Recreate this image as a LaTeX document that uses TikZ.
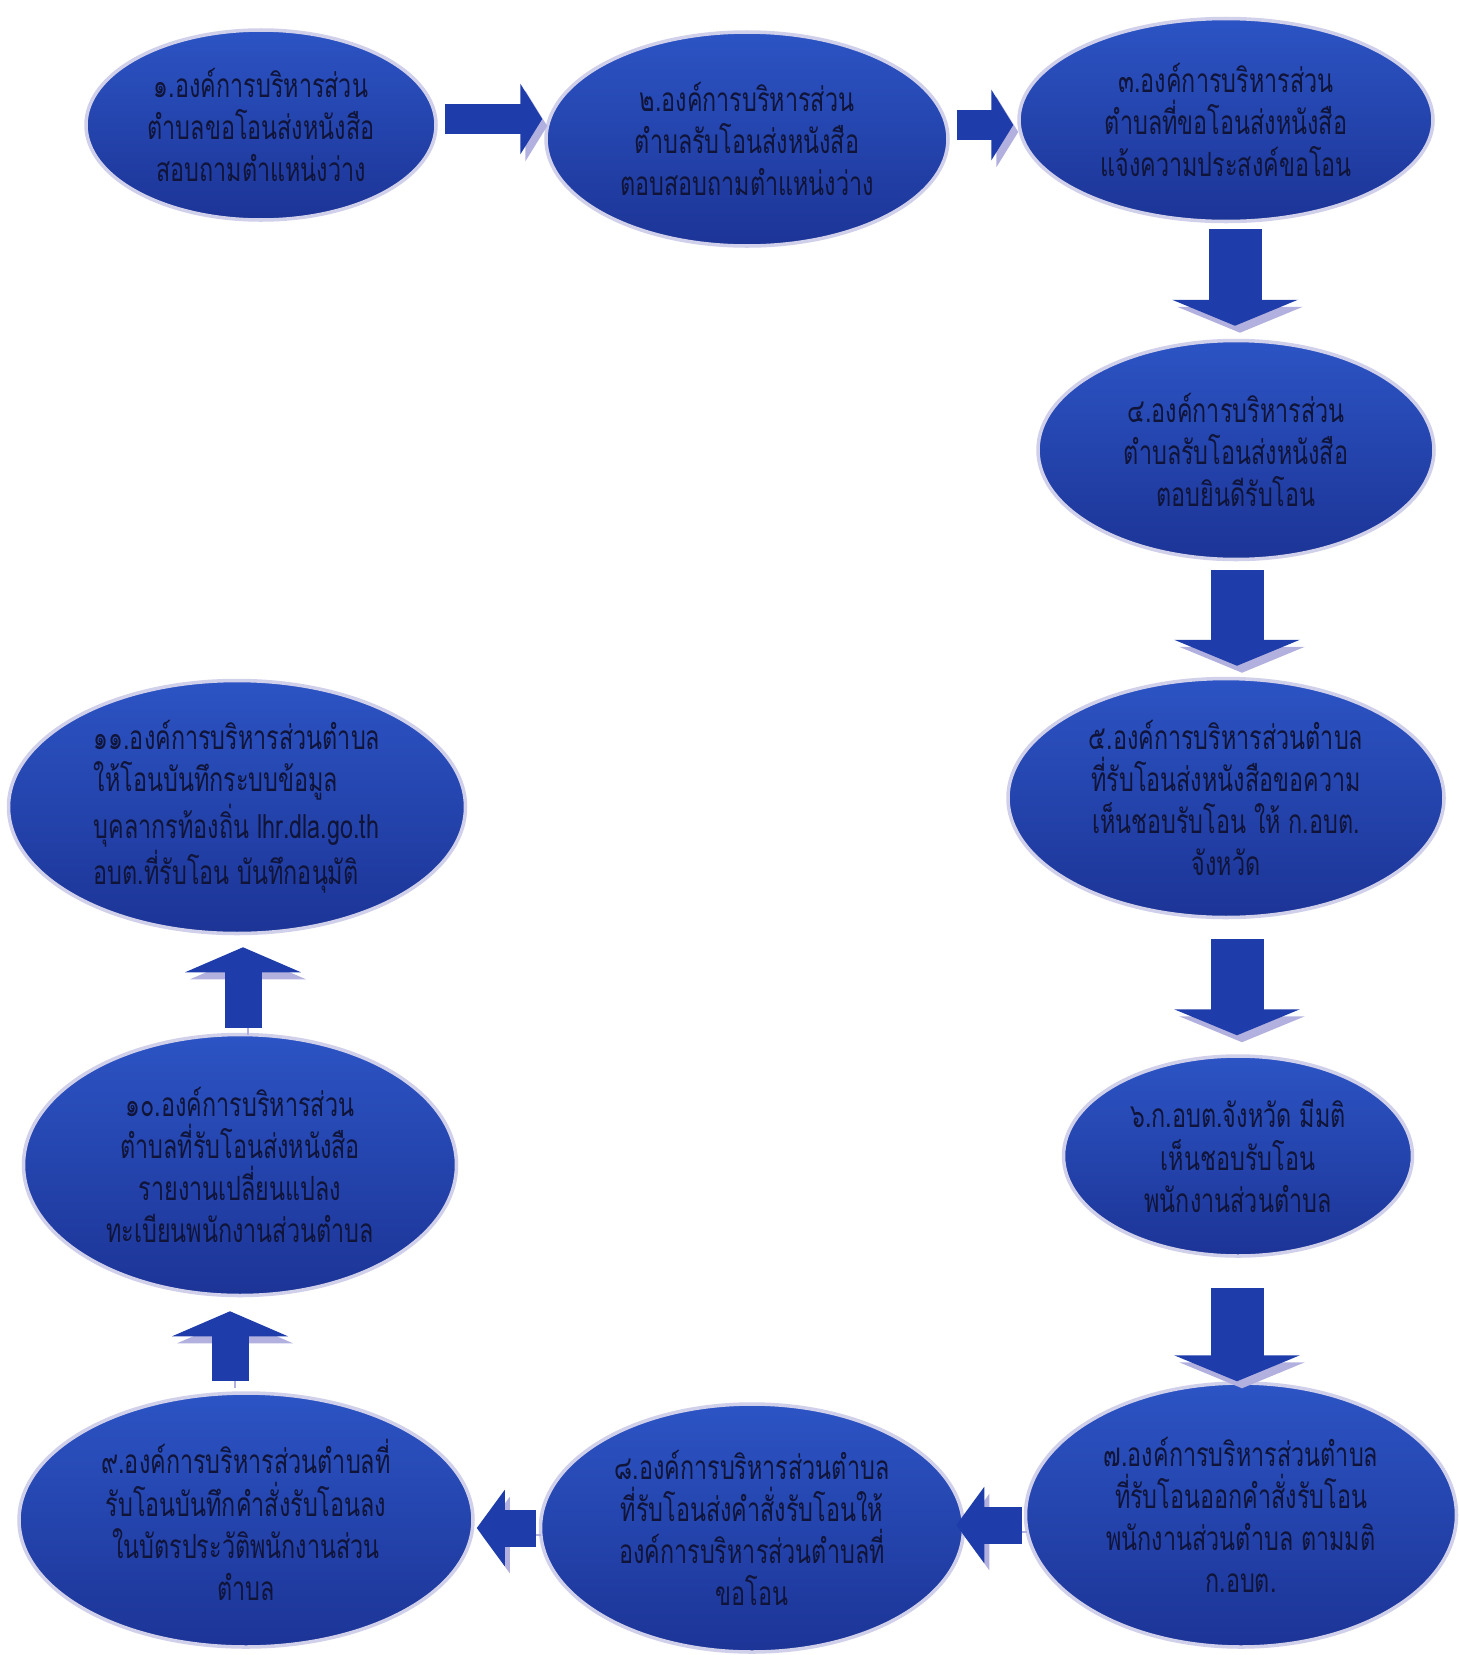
\documentclass[tikz,border=0pt]{standalone}
\usepackage{fontspec}
\newfontfamily\thaifont[Script=Thai, FakeStretch=0.7]{Loma}
\usetikzlibrary{shapes.geometric,arrows.meta}

\definecolor{stagetop}{RGB}{44,84,196}
\definecolor{stagebot}{RGB}{28,52,150}
\definecolor{arrowblue}{RGB}{30,60,170}
\definecolor{shade}{RGB}{178,176,222}
\definecolor{ink}{RGB}{16,20,56}

\begin{document}
\begin{tikzpicture}[x=0.1mm, y=-0.1mm,
  stage/.style = {ellipse, draw=shade!60, line width=1pt, top color=stagetop, bottom color=stagebot,
    text=ink, font=\thaifont\fontsize{9.5}{12}\selectfont, align=center, inner sep=-1.5mm},
  flow/.style = {draw=arrowblue, preaction={draw=shade, transform canvas={shift={(5,7)}}}},
  toprow/.style = {line width=3mm, -{Triangle[length=2.2mm, width=7mm]}},
  rightcol/.style = {line width=5.3mm, -{Triangle[length=2.6mm, width=12.5mm]}},
  bottomrow/.style = {line width=3.7mm, -{Triangle[length=2.8mm, width=7.5mm]}},
  leftcol/.style = {line width=3.7mm, -{Triangle[length=2.5mm, width=11.5mm]}}]
\useasboundingbox (0,0) rectangle (1459,1655);

\node[stage, minimum width=35mm, minimum height=19mm] (e1) at (261,125)
  {๑.องค์การบริหารส่วน\\ตำบลขอโอนส่งหนังสือ\\สอบถามตำแหน่งว่าง};
\node[stage, minimum width=40.2mm, minimum height=21.4mm] (e2) at (747,139)
  {๒.องค์การบริหารส่วน\\ตำบลรับโอนส่งหนังสือ\\ตอบสอบถามตำแหน่งว่าง};
\node[stage, minimum width=41.4mm, minimum height=20.3mm] (e3) at (1226,120)
  {๓.องค์การบริหารส่วน\\ตำบลที่ขอโอนส่งหนังสือ\\แจ้งความประสงค์ขอโอน};
\node[stage, minimum width=39.6mm, minimum height=21.9mm] (e4) at (1236,450)
  {๔.องค์การบริหารส่วน\\ตำบลรับโอนส่งหนังสือ\\ตอบยินดีรับโอน};
\node[stage, minimum width=43.6mm, minimum height=23.9mm] (e5) at (1226,798)
  {๕.องค์การบริหารส่วนตำบล\\ที่รับโอนส่งหนังสือขอความ\\เห็นชอบรับโอน ให้ ก.อบต.\\จังหวัด};
\node[stage, minimum width=34.9mm, minimum height=20mm] (e6) at (1238,1156)
  {๖.ก.อบต.จังหวัด มีมติ\\เห็นชอบรับโอน\\พนักงานส่วนตำบล};
\node[stage, minimum width=43.1mm, minimum height=26.4mm] (e7) at (1241,1515)
  {๗.องค์การบริหารส่วนตำบล\\ที่รับโอนออกคำสั่งรับโอน\\พนักงานส่วนตำบล ตามมติ\\ก.อบต.};
\node[stage, minimum width=42.3mm, minimum height=24.8mm] (e8) at (752,1528)
  {๘.องค์การบริหารส่วนตำบล\\ที่รับโอนส่งคำสั่งรับโอนให้\\องค์การบริหารส่วนตำบลที่\\ขอโอน};
\node[stage, minimum width=45.4mm, minimum height=25.4mm] (e9) at (246,1520)
  {๙.องค์การบริหารส่วนตำบลที่\\รับโอนบันทึกคำสั่งรับโอนลง\\ในบัตรประวัติพนักงานส่วน\\ตำบล};
\node[stage, minimum width=43.3mm, minimum height=26.1mm] (e10) at (240,1165)
  {๑๐.องค์การบริหารส่วน\\ตำบลที่รับโอนส่งหนังสือ\\รายงานเปลี่ยนแปลง\\ทะเบียนพนักงานส่วนตำบล};
\node[stage, align=left, minimum width=45.7mm, minimum height=25.3mm] (e11) at (237,807)
  {๑๑.องค์การบริหารส่วนตำบล\\ให้โอนบันทึกระบบข้อมูล\\บุคลากรท้องถิ่น lhr.dla.go.th\\อบต.ที่รับโอน บันทึกอนุมัติ};

\draw[flow, toprow] ([shift={(7,-6)}]e1.east) -- ([shift={(-2,-20)}]e2.west);
\draw[flow, toprow] ([shift={(7,-14)}]e2.east) -- ([shift={(-4,5)}]e3.west);
\draw[flow, rightcol] ([shift={(9,6)}]e3.south) -- ([shift={(-1,-13)}]e4.north);
\draw[flow, rightcol] ([shift={(1,9)}]e4.south) -- ([shift={(11,-11)}]e5.north);
\draw[flow, rightcol] ([shift={(11,20)}]e5.south) -- ([shift={(-1,-19)}]e6.north);
\draw[flow, rightcol] ([shift={(-1,30)}]e6.south) -- ([shift={(-4,0)}]e7.north);
\draw[flow, bottomrow] ([shift={(-2,10)}]e7.west) -- ([shift={(-9,-3)}]e8.east);
\draw[flow, bottomrow] ([shift={(-3,0)}]e8.west) -- ([shift={(2,8)}]e9.east);
\draw[flow, leftcol] ([shift={(-16,-10)}]e9.north) -- ([shift={(-10,14)}]e10.south);
\draw[flow, leftcol] ([shift={(3,-5)}]e10.north) -- ([shift={(6,12)}]e11.south);
\end{tikzpicture}
\end{document}
